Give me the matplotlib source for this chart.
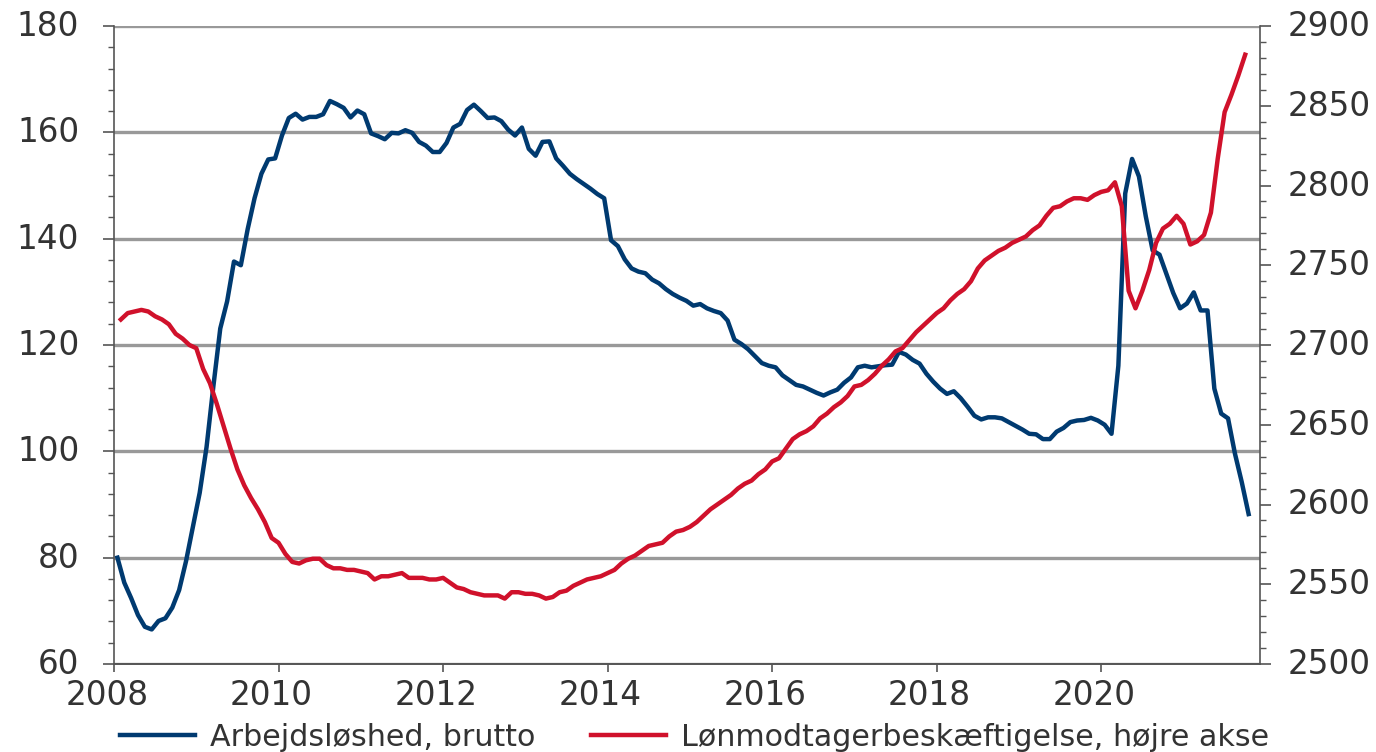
import numpy as np
import matplotlib
matplotlib.use("Agg")
import matplotlib.pyplot as plt
from matplotlib.ticker import MultipleLocator
from matplotlib.transforms import ScaledTranslation

plt.rcParams['font.family'] = ['DejaVu Sans']

# Arbejdsløshed, brutto (1.000 personer), monthly from Jan 2008
unemp = [80.0, 75.3, 72.4, 69.2, 67.0, 66.5, 68.1, 68.6, 70.6, 73.9, 79.3, 85.7,
         92.2, 100.8, 112.3, 123.1, 128.2, 135.7, 135.0, 141.8, 147.6, 152.2, 154.9, 155.1,
         159.4, 162.7, 163.5, 162.4, 162.9, 162.9, 163.4, 165.9, 165.3, 164.6, 162.8, 164.1,
         163.4, 159.8, 159.3, 158.7, 159.9, 159.8, 160.4, 159.9, 158.2, 157.5, 156.3, 156.3,
         158.0, 160.9, 161.6, 164.2, 165.2, 164.0, 162.7, 162.8, 162.1, 160.5, 159.4, 160.9,
         156.9, 155.6, 158.2, 158.3, 155.1, 153.7, 152.2, 151.2, 150.3, 149.4, 148.4, 147.6,
         139.7, 138.6, 136.1, 134.4, 133.8, 133.5, 132.3, 131.6, 130.5, 129.6, 128.9, 128.3,
         127.4, 127.7, 126.9, 126.4, 126.0, 124.6, 121.0, 120.2, 119.2, 117.9, 116.6, 116.1,
         115.8, 114.3, 113.4, 112.5, 112.2, 111.6, 111.0, 110.5, 111.1, 111.6, 112.9, 113.9,
         115.8, 116.1, 115.8, 116.0, 116.2, 116.3, 118.7, 118.2, 117.2, 116.5, 114.6, 113.1,
         111.8, 110.8, 111.3, 110.0, 108.4, 106.7, 106.0, 106.4, 106.4, 106.2, 105.5, 104.8,
         104.1, 103.3, 103.2, 102.3, 102.3, 103.7, 104.4, 105.5, 105.8, 105.9, 106.3, 105.8,
         105.0, 103.3, 116.1, 148.5, 155.0, 151.7, 144.2, 137.8, 137.0, 133.4, 129.8, 126.9,
         127.8, 129.9, 126.5, 126.5, 111.8, 107.1, 106.2, 99.6, 94.2, 88.2]

# Lønmodtagerbeskæftigelse (1.000 personer), right axis
employ = [2716, 2720, 2721, 2722, 2721, 2718, 2716, 2713, 2707, 2704, 2700, 2698,
          2685, 2676, 2663, 2649, 2635, 2622, 2612, 2604, 2597, 2589, 2579, 2576,
          2569, 2564, 2563, 2565, 2566, 2566, 2562, 2560, 2560, 2559, 2559, 2558,
          2557, 2553, 2555, 2555, 2556, 2557, 2554, 2554, 2554, 2553, 2553, 2554,
          2551, 2548, 2547, 2545, 2544, 2543, 2543, 2543, 2541, 2545, 2545, 2544,
          2544, 2543, 2541, 2542, 2545, 2546, 2549, 2551, 2553, 2554, 2555, 2557,
          2559, 2563, 2566, 2568, 2571, 2574, 2575, 2576, 2580, 2583, 2584, 2586,
          2589, 2593, 2597, 2600, 2603, 2606, 2610, 2613, 2615, 2619, 2622, 2627,
          2629, 2635, 2641, 2644, 2646, 2649, 2654, 2657, 2661, 2664, 2668, 2674,
          2675, 2678, 2682, 2687, 2691, 2696, 2698, 2703, 2708, 2712, 2716, 2720,
          2723, 2728, 2732, 2735, 2740, 2748, 2753, 2756, 2759, 2761, 2764, 2766,
          2768, 2772, 2775, 2781, 2786, 2787, 2790, 2792, 2792, 2791, 2794, 2796,
          2797, 2802, 2787, 2734, 2723, 2734, 2747, 2764, 2773, 2776, 2781, 2776,
          2763, 2765, 2769, 2783, 2817, 2846, 2857, 2869, 2882]

year_ticks = [2008, 2010, 2012, 2014, 2016, 2018, 2020]

blue = "#003a70"
red = "#d0112b"
txt = "#333333"
grey = "#999999"

x_unemp = 2008 + (np.arange(len(unemp)) + 0.5) / 12
x_employ = 2008 + (np.arange(len(employ)) + 1.0) / 12

fig = plt.figure(figsize=(13.76, 7.52), dpi=100)
ax = fig.add_axes([114 / 1376, 1 - 664 / 752, (1260 - 114) / 1376, (664 - 26) / 752])
ax2 = ax.twinx()

ax.set_xlim(2008, 2021.93)
ax.set_ylim(60, 180)
ax2.set_ylim(2500, 2900)

ax.yaxis.set_major_locator(MultipleLocator(20))
ax.yaxis.set_minor_locator(MultipleLocator(4))
ax2.yaxis.set_major_locator(MultipleLocator(50))
ax2.yaxis.set_minor_locator(MultipleLocator(10))
ax.set_xticks(year_ticks)

ax.grid(axis='y', color=grey, linewidth=2.4, zorder=0)
ax.set_axisbelow(True)

l1, = ax.plot(x_unemp, unemp, color=blue, linewidth=3.2, label="Arbejdsløshed, brutto", zorder=3)
l2, = ax2.plot(x_employ, employ, color=red, linewidth=3.2, label="Lønmodtagerbeskæftigelse, højre akse", zorder=3)

for a in (ax, ax2):
    a.spines['top'].set_visible(False)
    for s in ('left', 'right', 'bottom'):
        a.spines[s].set_color("#555555")
        a.spines[s].set_linewidth(1.2)
    a.tick_params(axis='both', which='major', labelsize=23.5, colors="#555555",
                  labelcolor=txt, length=8, width=1.2, direction='out')
    a.tick_params(axis='y', which='minor', length=4, width=1.0, colors="#555555")
ax.spines['right'].set_visible(False)
ax2.spines['left'].set_visible(False)
ax.tick_params(axis='x', which='major', length=6, pad=5)
ax.tick_params(axis='y', which='major', pad=17)
ax2.tick_params(axis='y', which='major', pad=12)

# small offsets of the tick labels as in the original layout
shift_x = ScaledTranslation(-7 / 100, 0, fig.dpi_scale_trans)
shift_y = ScaledTranslation(0, 3 / 100, fig.dpi_scale_trans)
for lab in ax.get_xticklabels():
    lab.set_transform(lab.get_transform() + shift_x)
for lab in ax.get_yticklabels() + ax2.get_yticklabels():
    lab.set_transform(lab.get_transform() + shift_y)

fig.legend(handles=[l1, l2], loc='center left', bbox_to_anchor=(120 / 1376, 15 / 752),
           ncol=2, frameon=False, fontsize=21.7, handlelength=2.5, handletextpad=0.48,
           columnspacing=1.85, borderaxespad=0, borderpad=0, labelcolor=txt)

fig.savefig("out.png", dpi=100)
